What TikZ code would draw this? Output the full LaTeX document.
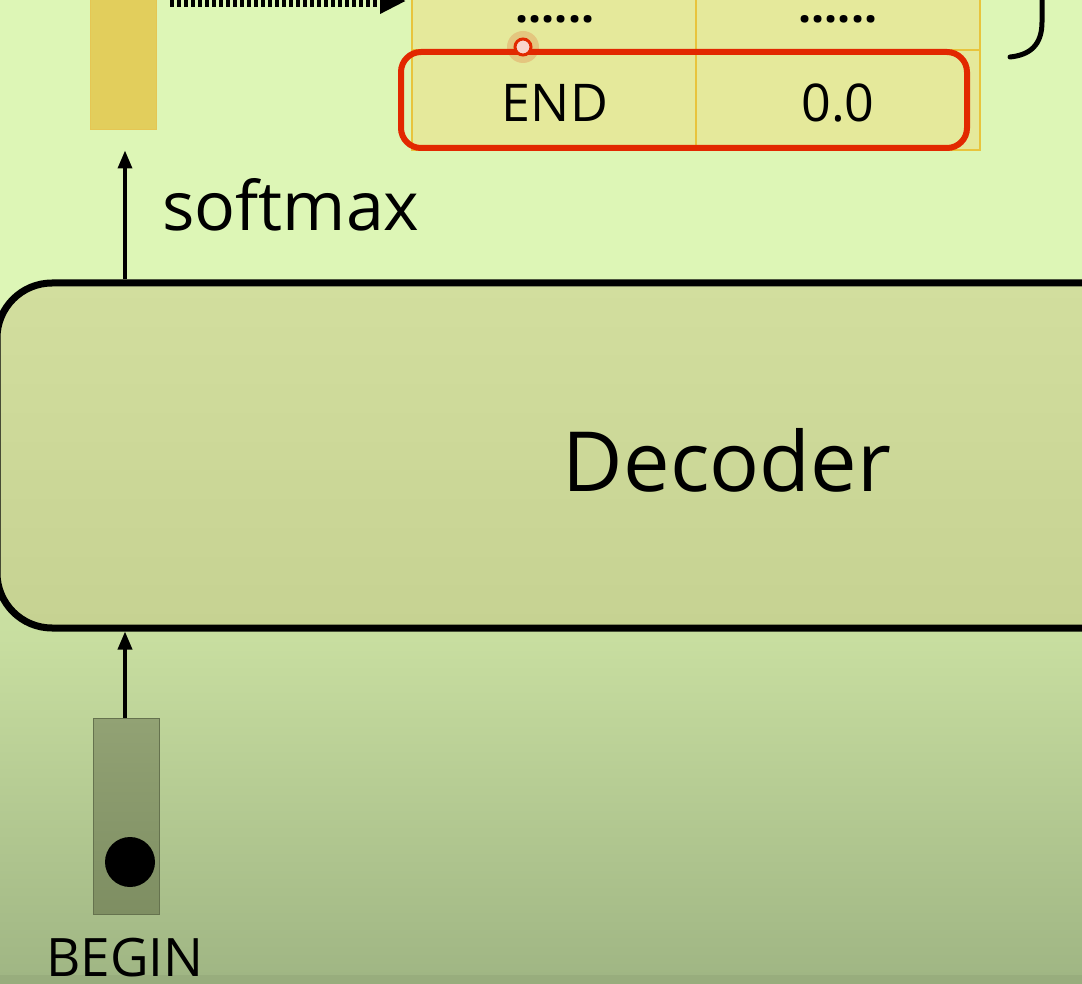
\documentclass[tikz,border=0pt]{standalone}
\usepackage{fontspec}
\setmainfont{Open Sans}
\usetikzlibrary{arrows.meta}
\definecolor{bgtop}{RGB}{221,246,182}
\definecolor{bgmid}{RGB}{200,222,160}
\definecolor{bgbot}{RGB}{160,182,132}
\definecolor{barfill}{RGB}{226,206,92}
\definecolor{cellfill}{RGB}{229,233,155}
\definecolor{cellline}{RGB}{232,196,60}
\definecolor{redline}{RGB}{226,40,0}
\definecolor{decfill}{RGB}{210,222,158}
\definecolor{decfillb}{RGB}{198,210,146}
\definecolor{begtop}{RGB}{146,162,116}
\definecolor{begbot}{RGB}{126,142,98}
\tikzset{
  txt/.style={inner sep=0pt, text=black},
  cell/.style={draw=cellline, line width=1.2pt, fill=cellfill, minimum height=100pt, minimum width=284pt, inner sep=0pt},
  uparrow/.style={line width=3.5pt, -{Triangle[length=18pt,width=14pt]}},
}
\begin{document}
\begin{tikzpicture}[x=1pt,y=-1pt]
\useasboundingbox (0,0) rectangle (1082,984);
% background
\fill[bgtop] (0,0) rectangle (1082,300);
\shade[top color=bgtop, bottom color=bgbot, middle color=bgmid, shading angle=0] (0,299) rectangle (1082,976);
\fill[bgbot!95!black] (0,975) rectangle (1082,984);
% yellow output bar
\node[fill=barfill, draw=barfill!90!orange, line width=1pt, minimum width=66pt, minimum height=140pt, inner sep=0pt] (bar) at (123.5,60) {};
% dotted arrow at top
\coordinate (dotstart) at (170,1);
\coordinate (dotend) at (406,1);
\draw[line width=12pt, dash pattern=on 4pt off 3pt, -{Triangle[length=26pt,width=24pt]}] (dotstart) -- (dotend);
% table
\node[cell] (c11) at (554,0) {};
\node[cell] (c12) at (838,0) {};
\node[cell] (c21) at (554,100) {};
\node[cell] (c22) at (838,100) {};
\node[txt, font=\bfseries\fontsize{46}{50}\selectfont, anchor=base] (d1) at (555,23) {......};
\node[txt, font=\bfseries\fontsize{46}{50}\selectfont, anchor=base] (d2) at (838,23) {......};
\node[txt, font=\fontsize{52}{58}\selectfont] (endtxt) at (555,103) {END};
\node[txt, font=\fontsize{52}{58}\selectfont] (zero) at (838,103) {0.0};
% red highlight
\node[draw=redline, line width=6pt, rounded corners=20pt, minimum width=566pt, minimum height=96pt, inner sep=0pt] (hl) at (684,100) {};
% cursor mark
\fill[redline, opacity=0.18] (523,47) circle (16pt);
\node[circle, draw=redline, line width=3pt, fill=white!80!redline, minimum size=16pt, inner sep=0pt] (cursor) at (523,47) {};
% brace end
\coordinate (bra) at (1042,-5);
\coordinate (brb) at (1010,57);
\draw[line width=5pt, line cap=round] (bra) -- (1042,22) .. controls (1042,45) and (1030,55) .. (brb);
% decoder
\node[draw=black, line width=7pt, rounded corners=55pt, top color=decfill, bottom color=decfillb, minimum width=1170pt, minimum height=345pt, inner sep=0pt] (dec) at (582,455.5) {};
\node[txt, font=\fontsize{83}{90}\selectfont] (dectxt) at (727,460) {Decoder};
% softmax
\draw[uparrow, shorten >=20pt] (dec.north -| 125,0) -- (bar.south -| 125,0);
\node[txt, font=\fontsize{68}{76}\selectfont, anchor=base west] (sm) at (162,231) {softmax};
% begin token
\node[draw=begbot!80!black, line width=1pt, top color=begtop, bottom color=begbot, minimum width=66pt, minimum height=196pt, inner sep=0pt] (beg) at (126,816) {};
\fill[black] (130,862) circle (25pt);
\draw[uparrow] (beg.north -| 125,0) -- (dec.south -| 125,0);
\node[txt, font=\fontsize{53}{58}\selectfont, anchor=base] (begtxt) at (125,976) {BEGIN};
\end{tikzpicture}
\end{document}
